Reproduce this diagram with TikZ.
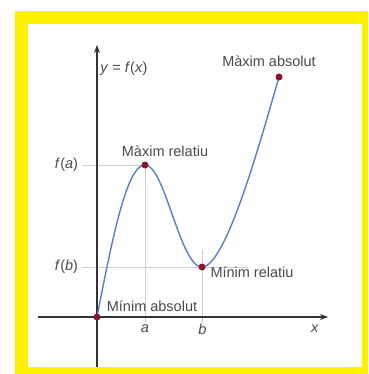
\documentclass[tikz,border=0pt]{standalone}
\usepackage{fontspec}
\setmainfont{Liberation Sans}
\usetikzlibrary{arrows.meta}
\definecolor{txt}{HTML}{4A4A4A}
\definecolor{axis}{HTML}{333333}
\definecolor{curve}{HTML}{5B7FC0}
\definecolor{dotc}{HTML}{8A1530}
\definecolor{guide}{HTML}{CFCFCF}
\tikzset{
  lbl/.style={text=txt,inner sep=0pt,font=\fontsize{14.5}{17}\selectfont},
  axisline/.style={draw=axis,line width=1.2pt,-{Stealth[length=8pt,width=6pt]}},
  guideline/.style={draw=guide,line width=0.8pt},
  fcurve/.style={draw=curve,line width=1.4pt},
  dotp/.style={circle,fill=dotc,inner sep=0pt,minimum size=7pt}
}
\begin{document}
\begin{tikzpicture}[x=1pt,y=-1pt]
\useasboundingbox (0,0) rectangle (368,374);
\fill[white] (0,0) rectangle (368,374);
\fill[yellow] (15,11) rectangle (368,374);
\fill[white] (28,24) rectangle (362,367);
% key points
\coordinate (O) at (97,317);
\coordinate (A) at (145,165);
\coordinate (B) at (202,267);
\coordinate (M) at (279,77);
\coordinate (fa0) at (82,165);
\coordinate (fb0) at (82,267);
\coordinate (fb1) at (248,267);
\coordinate (a0) at (145,323);
\coordinate (b0) at (202,250);
\coordinate (b1) at (202,323);
\coordinate (ytop) at (97,45);
\coordinate (ybot) at (97,367);
\coordinate (xl) at (38,317);
\coordinate (xr) at (328,317);
% guides
\draw[guideline] (fa0) -- (A);
\draw[guideline] (fb0) -- (fb1);
\draw[guideline] (A) -- (a0);
\draw[guideline] (b0) -- (b1);
% axes
\draw[axisline] (ybot) -- (ytop);
\draw[axisline] (xl) -- (xr);
% curve
\draw[fcurve] (O) .. controls (113,235) and (127,165) .. (A)
  .. controls (165,165) and (180,267) .. (B)
  .. controls (225,267) and (258,150) .. (M);
% dots
\node[dotp] (dO) at (O) {};
\node[dotp] (dA) at (A) {};
\node[dotp] (dB) at (B) {};
\node[dotp] (dM) at (M) {};
% labels
\node[lbl,anchor=base] (lM) at (269,66.7) {Màxim absolut};
\node[lbl,anchor=base] (lA) at (165,156.7) {Màxim relatiu};
\node[lbl,anchor=base] (lB) at (252,277) {Mínim relatiu};
\node[lbl,anchor=base] (lO) at (152,311.7) {Mínim absolut};
\node[lbl] (lfa) at (66.5,165) {\textit{f}(\textit{a})};
\node[lbl] (lfb) at (66.5,267) {\textit{f}(\textit{b})};
\node[lbl] (la) at (145,329) {\textit{a}};
\node[lbl] (lb) at (202.5,329) {\textit{b}};
\node[lbl] (lx) at (315,329) {\textit{x}};
\node[lbl] (ly) at (124,69) {\textit{y} = \textit{f}(\textit{x})};
\end{tikzpicture}
\end{document}
